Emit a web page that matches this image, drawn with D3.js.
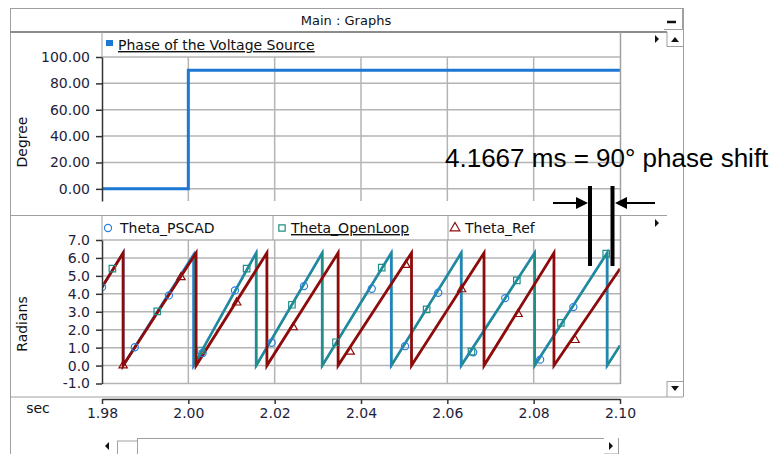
<!DOCTYPE html>
<html>
<head>
<meta charset="utf-8">
<script src="https://cdn.jsdelivr.net/npm/d3@7"></script>
<style>
  body { margin: 0; background: #fff; }
  svg { display: block; font-family: "DejaVu Sans", sans-serif; }
</style>
</head>
<body>
<svg id="chart" width="777" height="454"></svg>
<script>
// tick values
const xTicks = [1.98, 2.00, 2.02, 2.04, 2.06, 2.08, 2.10];
const degTicks = [0, 20, 40, 60, 80, 100];
const radTicks = [-1, 0, 1, 2, 3, 4, 5, 6, 7];

// Phase of the Voltage Source (degrees)
const phaseT   = [1.98, 2.00, 2.00, 2.10];
const phaseDeg = [0, 0, 90, 90];

// Theta_Ref (rad), sawtooth vertices
const refT = [1.98, 1.9849, 1.9849, 2.0018, 2.0018, 2.0182, 2.0182, 2.0347, 2.0347,
              2.0517, 2.0517, 2.0685, 2.0685, 2.0847, 2.0847, 2.10];
const refV = [4.37, 6.28, 0, 6.28, 0, 6.28, 0, 6.28, 0, 6.28, 0, 6.28, 0, 6.28, 0, 5.40];

// Theta_PSCAD (rad)
const pscadT = [1.98, 1.9849, 1.9849, 2.0012, 2.0012, 2.0157, 2.0157, 2.0310, 2.0310,
                2.0470, 2.0470, 2.0632, 2.0632, 2.0802, 2.0802, 2.0970, 2.0970, 2.10];
const pscadV = [4.37, 6.28, 0, 6.18, 0, 6.28, 0, 6.28, 0, 6.28, 0, 6.28, 0, 6.28, 0, 6.28, 0, 1.12];

// Theta_OpenLoop (rad)
const openT = [1.98, 1.9849, 1.9849, 2.0013, 2.0013, 2.0158, 2.0158, 2.0311, 2.0311,
               2.0471, 2.0471, 2.0633, 2.0633, 2.0803, 2.0803, 2.0971, 2.0971, 2.10];
const openV = [4.37, 6.28, 0, 6.18, 0, 6.28, 0, 6.28, 0, 6.28, 0, 6.28, 0, 6.28, 0, 6.28, 0, 1.10];

// marker samples
const pscadMkT = [1.9800, 1.9876, 1.9955, 2.0033, 2.0108, 2.0193, 2.0268, 2.0425, 2.0502, 2.0579, 2.0660, 2.0734, 2.0815, 2.0892];
const pscadMkV = [4.37, 1.02, 3.91, 0.70, 4.19, 1.27, 4.43, 4.28, 1.08, 4.06, 0.74, 3.76, 0.33, 3.26];
const openMkT = [1.9824, 1.9928, 2.0029, 2.0135, 2.0240, 2.0342, 2.0448, 2.0552, 2.0656, 2.0761, 2.0863, 2.0968];
const openMkV = [5.40, 3.02, 0.84, 5.40, 3.39, 1.30, 5.46, 3.13, 0.78, 4.75, 2.38, 6.24];
const refMkT = [1.9849, 1.9983, 2.0112, 2.0243, 2.0375, 2.0504, 2.0633, 2.0764, 2.0896];
const refMkV = [0, 4.92, 3.51, 2.13, 0.77, 5.61, 4.25, 2.87, 1.42];

const C_PHASE = "#1f77d4", C_PSCAD = "#2a80dc", C_OPEN = "#1f8f82", C_REF = "#8e0b0b";
const GRID = "#b4b4b4", FRAME = "#a0a0a0", INK = "#1e1e3c";

const svg = d3.select("#chart");

const x = d3.scaleLinear().domain([1.98, 2.10]).range([102, 620]);
const yDeg = d3.scaleLinear().domain([-9.2, 100]).range([201, 57]);
const yRad = d3.scaleLinear().domain([-1, 7]).range([383.5, 240]);

function ln(x1, y1, x2, y2, color, w) {
  svg.append("line").attr("x1", x1).attr("y1", y1).attr("x2", x2).attr("y2", y2)
    .attr("stroke", color).attr("stroke-width", w || 1);
}

// window frame
ln(10, 8.5, 683, 8.5, FRAME);
ln(10.5, 8, 10.5, 454, FRAME);
ln(683.5, 8, 683.5, 397, FRAME);
ln(10, 32, 667, 32, "#8c8c8c", 2);
ln(10, 215.5, 667, 215.5, FRAME);
ln(10, 397, 683, 397, FRAME);
svg.append("text").attr("x", 346).attr("y", 25).attr("text-anchor", "middle")
  .attr("font-size", 13).attr("fill", "#111").text("Main : Graphs");
// minimize button
ln(664, 29.5, 682, 29.5, FRAME);
ln(682.5, 9, 682.5, 30, FRAME);
ln(667, 22, 676, 22, "#111", 2.5);

// right column buttons
ln(667, 32, 667, 47, FRAME); ln(667, 46.5, 683, 46.5, FRAME);
svg.append("path").attr("d", "M671,42 L679,42 L675,37 Z").attr("fill", "#111");
ln(667, 381.5, 683, 381.5, FRAME); ln(667, 381, 667, 397, FRAME);
svg.append("path").attr("d", "M671,386 L679,386 L675,391 Z").attr("fill", "#111");
svg.append("path").attr("d", "M655,35 L655,43 L659,39 Z").attr("fill", "#111");
svg.append("path").attr("d", "M655,219 L655,227 L659,223 Z").attr("fill", "#111");

// horizontal scrollbar
ln(137, 438.5, 604, 438.5, FRAME);
ln(117.5, 441, 117.5, 454, FRAME); ln(117, 441, 137, 441, FRAME);
ln(137.5, 438, 137.5, 454, FRAME);
ln(618.5, 438, 618.5, 454, FRAME); ln(604, 454, 618, 454, FRAME);
svg.append("path").attr("d", "M109,442 L109,450 L105,446 Z").attr("fill", "#111");
svg.append("path").attr("d", "M609,442 L609,450 L613,446 Z").attr("fill", "#111");

// ---------- top panel ----------
const topG = svg.append("g");
topG.selectAll(".vg").data(xTicks.slice(1, -1)).enter().append("line")
  .attr("x1", d => x(d)).attr("x2", d => x(d)).attr("y1", 57).attr("y2", 201)
  .attr("stroke", GRID).attr("stroke-width", 1.5);
topG.selectAll(".hg").data(degTicks).enter().append("line")
  .attr("x1", 102).attr("x2", 620).attr("y1", d => yDeg(d)).attr("y2", d => yDeg(d))
  .attr("stroke", GRID).attr("stroke-width", 1.5);
ln(620.5, 32, 620.5, 201, FRAME, 1.5);
ln(102, 32, 102, 57, FRAME);

const phaseLine = d3.line().x(d => x(d[0])).y(d => yDeg(d[1]));
topG.append("path").datum(d3.zip(phaseT, phaseDeg)).attr("d", phaseLine)
  .attr("fill", "none").attr("stroke", C_PHASE).attr("stroke-width", 3);

const degAxis = topG.append("g").attr("transform", "translate(102,0)")
  .call(d3.axisLeft(yDeg).tickValues(degTicks).tickFormat(d3.format(".2f"))
    .tickSize(6).tickSizeOuter(0).tickPadding(6));
degAxis.select(".domain").attr("stroke", "#333").attr("stroke-width", 1.5);
degAxis.selectAll(".tick line").attr("stroke", "#333").attr("stroke-width", 1.5);
degAxis.selectAll("text").attr("font-size", 14).attr("fill", INK)
  .attr("font-family", "DejaVu Sans");

topG.append("text").attr("transform", "translate(27,142) rotate(-90)")
  .attr("text-anchor", "middle").attr("font-size", 14).attr("fill", "#111").text("Degree");

topG.append("rect").attr("x", 106).attr("y", 40).attr("width", 7).attr("height", 6).attr("fill", C_PHASE);
topG.append("text").attr("x", 118).attr("y", 50).attr("font-size", 14).attr("fill", "#111")
  .attr("text-decoration", "underline").text("Phase of the Voltage Source");

// ---------- bottom panel ----------
const botG = svg.append("g");
botG.append("clipPath").attr("id", "clipB").append("rect")
  .attr("x", 102).attr("y", 236).attr("width", 518.5).attr("height", 150);

botG.selectAll(".vg").data(xTicks.slice(1, -1)).enter().append("line")
  .attr("x1", d => x(d)).attr("x2", d => x(d)).attr("y1", 240).attr("y2", 384)
  .attr("stroke", GRID).attr("stroke-width", 1.5);
botG.selectAll(".hg").data(radTicks).enter().append("line")
  .attr("x1", 102).attr("x2", 620).attr("y1", d => yRad(d)).attr("y2", d => yRad(d))
  .attr("stroke", GRID).attr("stroke-width", 1.5);
ln(620.5, 216, 620.5, 384, FRAME, 1.5);
// legend cells
ln(102, 216, 102, 240, FRAME);
ln(273, 216, 273, 240, FRAME);
ln(448, 216, 448, 240, FRAME);

const radLine = d3.line().x(d => x(d[0])).y(d => yRad(d[1]));
const plot = botG.append("g").attr("clip-path", "url(#clipB)");
plot.append("path").datum(d3.zip(pscadT, pscadV)).attr("d", radLine)
  .attr("fill", "none").attr("stroke", C_PSCAD).attr("stroke-width", 2.6);
plot.append("path").datum(d3.zip(openT, openV)).attr("d", radLine)
  .attr("fill", "none").attr("stroke", C_OPEN).attr("stroke-width", 1.8);
plot.append("path").datum(d3.zip(refT, refV)).attr("d", radLine)
  .attr("fill", "none").attr("stroke", C_REF).attr("stroke-width", 2.8);

function markers(ts, vs, type, size, color) {
  plot.selectAll(null).data(d3.zip(ts, vs)).enter().append("path")
    .attr("transform", d => `translate(${x(d[0])},${yRad(d[1])})`)
    .attr("d", d3.symbol().type(type).size(size))
    .attr("fill", "none").attr("stroke", color).attr("stroke-width", 1.2);
}
markers(pscadMkT, pscadMkV, d3.symbolCircle, 40, C_PSCAD);
markers(openMkT, openMkV, d3.symbolSquare, 42, C_OPEN);
markers(refMkT, refMkV, d3.symbolTriangle, 30, C_REF);

const radAxis = botG.append("g").attr("transform", "translate(102,0)")
  .call(d3.axisLeft(yRad).tickValues(radTicks).tickFormat(d3.format(".1f"))
    .tickSize(6).tickSizeOuter(0).tickPadding(6));
radAxis.select(".domain").attr("stroke", "#333").attr("stroke-width", 1.5);
radAxis.selectAll(".tick line").attr("stroke", "#333").attr("stroke-width", 1.5);
radAxis.selectAll("text").attr("font-size", 14).attr("fill", INK)
  .attr("font-family", "DejaVu Sans").text(d => d3.format(".1f")(d).replace("−", "-"));

botG.append("text").attr("transform", "translate(27,324) rotate(-90)")
  .attr("text-anchor", "middle").attr("font-size", 14).attr("fill", "#111").text("Radians");

// legend
const leg = [
  { name: "Theta_PSCAD", type: d3.symbolCircle, color: C_PSCAD, mx: 108, tx: 120, ul: false },
  { name: "Theta_OpenLoop", type: d3.symbolSquare, color: C_OPEN, mx: 282, tx: 291, ul: true },
  { name: "Theta_Ref", type: d3.symbolTriangle, color: C_REF, mx: 455, tx: 465, ul: false }
];
leg.forEach(l => {
  botG.append("path").attr("transform", `translate(${l.mx},228)`)
    .attr("d", d3.symbol().type(l.type).size(40))
    .attr("fill", "none").attr("stroke", l.color).attr("stroke-width", 1.2);
  botG.append("text").attr("x", l.tx).attr("y", 233).attr("font-size", 14).attr("fill", "#111")
    .attr("text-decoration", l.ul ? "underline" : null).text(l.name);
});

// x axis
const xAxis = svg.append("g").attr("transform", "translate(0,399)")
  .call(d3.axisBottom(x).tickValues(xTicks).tickFormat(d3.format(".2f"))
    .tickSize(5).tickSizeOuter(0).tickPadding(4));
xAxis.select(".domain").attr("stroke", "#333").attr("stroke-width", 1.5);
xAxis.selectAll(".tick line").attr("stroke", "#333").attr("stroke-width", 1.5);
xAxis.selectAll("text").attr("font-size", 14).attr("fill", INK).attr("font-family", "DejaVu Sans");
svg.append("text").attr("x", 38).attr("y", 413).attr("text-anchor", "middle")
  .attr("font-size", 14).attr("fill", "#111").text("sec");

// annotation
svg.append("text").attr("x", 445).attr("y", 167).attr("font-size", 26)
  .attr("font-family", "Liberation Sans, Arial, sans-serif").attr("fill", "#000")
  .text("4.1667 ms = 90° phase shift");
ln(590, 186, 590, 266, "#000", 4);
ln(612.5, 186, 612.5, 266, "#000", 4);
ln(553, 203, 580, 203, "#000", 2);
svg.append("path").attr("d", "M576,197 L588,203 L576,209 Z").attr("fill", "#000");
ln(625, 203, 655, 203, "#000", 2);
svg.append("path").attr("d", "M627,197 L615,203 L627,209 Z").attr("fill", "#000");
</script>
</body>
</html>
